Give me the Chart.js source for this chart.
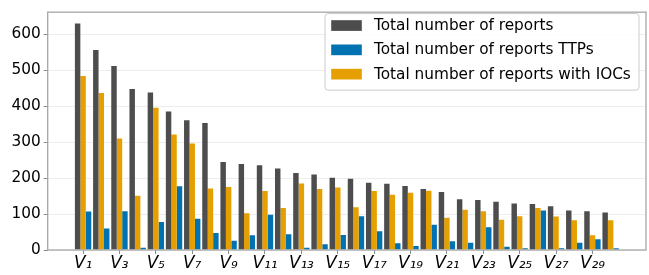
<!DOCTYPE html>
<html>
<head>
<meta charset="utf-8">
<script src="https://cdn.jsdelivr.net/npm/chart.js@4"></script>
<style>
  html, body { margin: 0; padding: 0; background: #ffffff; }
  #wrap { width: 649px; height: 275px; }
</style>
</head>
<body>
<div id="wrap"><canvas id="c" width="649" height="275"></canvas></div>
<script>
// ---- data ----
const categories = ['V₁','V₂','V₃','V₄','V₅','V₆','V₇','V₈','V₉','V₁₀',
  'V₁₁','V₁₂','V₁₃','V₁₄','V₁₅','V₁₆','V₁₇','V₁₈','V₁₉','V₂₀',
  'V₂₁','V₂₂','V₂₃','V₂₄','V₂₅','V₂₆','V₂₇','V₂₈','V₂₉','V₃₀'];
const totalReports = [630,556,512,448,438,385,361,353,245,239,236,227,214,210,201,198,187,184,178,170,161,141,139,134,129,128,122,110,108,104];
const ttpReports   = [107,60,108,6,78,177,87,47,26,41,98,44,6,16,42,94,52,19,11,70,24,20,63,9,5,110,5,20,30,5];
const iocReports   = [484,437,310,151,396,321,296,171,175,102,164,117,185,170,174,119,164,154,159,165,90,112,108,84,94,117,93,83,41,83];
const xTickLabels  = ['V₁','V₃','V₅','V₇','V₉','V₁₁','V₁₃','V₁₅','V₁₇','V₁₉','V₂₁','V₂₃','V₂₅','V₂₇','V₂₉'];
const yTickValues  = [0,100,200,300,400,500,600];
const seriesLabels = ['Total number of reports','Total number of reports TTPs','Total number of reports with IOCs'];

const FONT = 'DejaVu Sans';
const FS = 15.3;
const COLORS = { total: '#4d4d4d', ttp: '#0072b2', ioc: '#e69f00' };

const toXY = arr => arr.map((v, i) => ({ x: i, y: v }));
const xTickPositions = xTickLabels.map(l => categories.indexOf(l));

// bars are placed dark | orange | blue within a group; legend lists dark, blue, orange
const datasets = [
  { label: seriesLabels[0], data: toXY(totalReports), backgroundColor: COLORS.total, legendRank: 0 },
  { label: seriesLabels[2], data: toXY(iocReports),   backgroundColor: COLORS.ioc,   legendRank: 2 },
  { label: seriesLabels[1], data: toXY(ttpReports),   backgroundColor: COLORS.ttp,   legendRank: 1 }
];

const framePlugin = {
  id: 'frameAndLegend',
  afterDraw(chart) {
    const ctx = chart.ctx;
    const a = chart.chartArea;
    ctx.save();
    ctx.strokeStyle = '#a6a6a6';
    ctx.lineWidth = 1.3;
    ctx.strokeRect(a.left, a.top, a.right - a.left, a.bottom - a.top);

    // legend box (upper right, inside axes)
    const items = chart.data.datasets.slice().sort((p, q) => p.legendRank - q.legendRank);
    const bx = 325, by = 13.6, bw = 314, bh = 76.5, r = 3;
    ctx.beginPath();
    ctx.moveTo(bx + r, by);
    ctx.lineTo(bx + bw - r, by);
    ctx.quadraticCurveTo(bx + bw, by, bx + bw, by + r);
    ctx.lineTo(bx + bw, by + bh - r);
    ctx.quadraticCurveTo(bx + bw, by + bh, bx + bw - r, by + bh);
    ctx.lineTo(bx + r, by + bh);
    ctx.quadraticCurveTo(bx, by + bh, bx, by + bh - r);
    ctx.lineTo(bx, by + r);
    ctx.quadraticCurveTo(bx, by, bx + r, by);
    ctx.closePath();
    ctx.fillStyle = 'rgba(255,255,255,0.8)';
    ctx.fill();
    ctx.strokeStyle = '#cccccc';
    ctx.lineWidth = 1;
    ctx.stroke();

    ctx.font = FS + 'px "' + FONT + '"';
    ctx.textBaseline = 'middle';
    ctx.textAlign = 'left';
    items.forEach((ds, i) => {
      const cy = 25.5 + i * 24.3;
      ctx.fillStyle = ds.backgroundColor;
      ctx.fillRect(331.2, cy - 5.3, 30.6, 10.7);
      ctx.fillStyle = '#000000';
      ctx.fillText(ds.label, 374, cy + 0.5);
    });
    ctx.restore();
  }
};

new Chart(document.getElementById('c'), {
  type: 'bar',
  data: { datasets },
  options: {
    responsive: false,
    animation: false,
    devicePixelRatio: 1,
    layout: { padding: { top: 6, right: 3, left: 0, bottom: 0 } },
    datasets: { bar: { categoryPercentage: 0.9, barPercentage: 1.0, borderWidth: 0 } },
    plugins: { legend: { display: false }, tooltip: { enabled: false } },
    scales: {
      x: {
        type: 'linear',
        offset: false,
        min: -1.945,
        max: 30.945,
        afterBuildTicks: scale => { scale.ticks = xTickPositions.map(v => ({ value: v })); },
        afterFit: scale => { scale.height = 25; },
        ticks: {
          autoSkip: false, maxRotation: 0, minRotation: 0, padding: 0,
          color: '#000000',
          font: { family: FONT, size: 16.8, style: 'italic' },
          callback: (v, i) => xTickLabels[i]
        },
        grid: { display: true, offset: false, drawOnChartArea: false, drawTicks: true, tickLength: 4, tickColor: '#8c8c8c', tickWidth: 1 },
        border: { display: false }
      },
      y: {
        type: 'linear',
        min: 0,
        max: 661.5,
        afterBuildTicks: scale => { scale.ticks = yTickValues.map(v => ({ value: v })); },
        afterFit: scale => { scale.width = 47.7; },
        ticks: {
          padding: 3,
          color: '#000000',
          font: { family: FONT, size: FS }
        },
        grid: {
          color: 'rgba(0,0,0,0.09)', lineWidth: 0.8, borderDash: [2.5, 2.5],
          drawTicks: true, tickLength: 4, tickColor: '#8c8c8c', tickWidth: 1, tickBorderDash: []
        },
        border: { display: false }
      }
    }
  },
  plugins: [framePlugin]
});
</script>
</body>
</html>
